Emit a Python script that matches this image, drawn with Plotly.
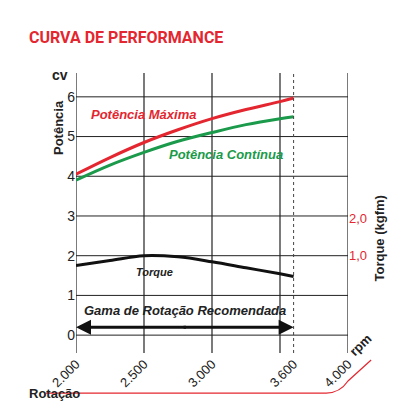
import plotly.graph_objects as go

rpm = [2000, 2250, 2500, 2750, 3000, 3250, 3500, 3600]
pot_max = [4.05, 4.47, 4.85, 5.17, 5.45, 5.68, 5.88, 5.97]
pot_cont = [3.9, 4.28, 4.6, 4.88, 5.1, 5.3, 5.45, 5.5]
torque = [0.74, 0.87, 1.0, 0.97, 0.84, 0.68, 0.52, 0.45]
xticks = [2000, 2500, 3000, 3600, 4000]
xlabels = ["2.000", "2.500", "3.000", "3.600", "4.000"]

RED = "#e3262f"
GREEN = "#1a9a4a"
F = "Liberation Sans"

fig = go.Figure()
fig.add_trace(go.Scatter(x=rpm, y=pot_max, mode="lines", line=dict(color=RED, width=3, shape="spline")))
fig.add_trace(go.Scatter(x=rpm, y=pot_cont, mode="lines", line=dict(color=GREEN, width=3, shape="spline")))
fig.add_trace(go.Scatter(x=rpm, y=torque, mode="lines", yaxis="y2", line=dict(color="#111", width=3, shape="spline")))

shapes = []
for xv in [2000, 2500, 3000, 3500, 4000]:
    shapes.append(dict(type="line", x0=xv, x1=xv, y0=-0.45, y1=6.6, xref="x", yref="y", line=dict(color="#222", width=1.2), layer="below"))
for yv in range(7):
    shapes.append(dict(type="line", x0=2000, x1=4000, y0=yv, y1=yv, xref="x", yref="y", line=dict(color="#222", width=1), layer="below"))
shapes.append(dict(type="line", x0=3600, x1=3600, y0=-0.45, y1=6.6, xref="x", yref="y", line=dict(color="#444", width=1, dash="dot")))
shapes.append(dict(type="path", path="M -0.11 -0.143 L 0.92 -0.143 Q 0.97 -0.143 1.0 -0.1 L 1.085 -0.025",
                   xref="paper", yref="paper", line=dict(color=RED, width=1.2)))

fig.update_layout(
    width=420, height=420, showlegend=False,
    paper_bgcolor="white", plot_bgcolor="white",
    margin=dict(l=68, r=80, t=65, b=75),
    font=dict(family=F, color="#222", size=13),
    xaxis=dict(range=[2000, 4000], tickvals=xticks, ticktext=xlabels, tickangle=-45,
               showgrid=False, zeroline=False, ticks="", tickfont=dict(size=13)),
    yaxis=dict(range=[-0.45, 6.6], tickvals=list(range(7)), showgrid=False, zeroline=False,
               tickfont=dict(size=14)),
    yaxis2=dict(overlaying="y", side="right", range=[-1.579, 5.842], tickvals=[1, 2],
                ticktext=["1,0", "2,0"], tickfont=dict(color=RED, size=13), showgrid=False, zeroline=False),
    shapes=shapes,
    annotations=[
        dict(text="<b>CURVA DE PERFORMANCE</b>", x=-0.18, y=1.168, xref="paper", yref="paper", showarrow=False,
             xanchor="left", font=dict(color=RED, size=16, family="Roboto")),
        dict(text="<b>cv</b>", x=-0.095, y=1.03, xref="paper", yref="paper", showarrow=False, font=dict(size=14)),
        dict(text="<b>Potência</b>", x=-0.10, y=0.91, xref="paper", yref="paper", showarrow=False, textangle=-90, font=dict(size=13)),
        dict(text="<b>Torque (kgfm)</b>", x=1.15, y=0.41, xref="paper", yref="paper", showarrow=False, textangle=-90, font=dict(size=13)),
        dict(text="<b>rpm</b>", x=1.11, y=-0.03, xref="paper", yref="paper", showarrow=False, textangle=-45, font=dict(size=13)),
        dict(text="<b>Rotação</b>", x=-0.18, y=-0.18, xref="paper", yref="paper", showarrow=False, xanchor="left", font=dict(size=13)),
        dict(text="<b><i>Potência Máxima</i></b>", x=2500, y=5.55, showarrow=False, font=dict(color=RED, size=13)),
        dict(text="<b><i>Potência Contínua</i></b>", x=3100, y=4.55, showarrow=False, font=dict(color=GREEN, size=13)),
        dict(text="<b><i>Torque</i></b>", x=2580, y=1.6, showarrow=False, font=dict(size=11)),
        dict(text="<b><i>Gama de Rotação Recomendada</i></b>", x=2800, y=0.62, showarrow=False, font=dict(size=13)),
        dict(x=2000, y=0.2, ax=2820, ay=0.2, axref="x", ayref="y", showarrow=True, arrowhead=2, arrowsize=1, arrowwidth=3, arrowcolor="#111", text=""),
        dict(x=3600, y=0.2, ax=2780, ay=0.2, axref="x", ayref="y", showarrow=True, arrowhead=2, arrowsize=1, arrowwidth=3, arrowcolor="#111", text=""),
    ],
)
fig.write_html("out.html")
